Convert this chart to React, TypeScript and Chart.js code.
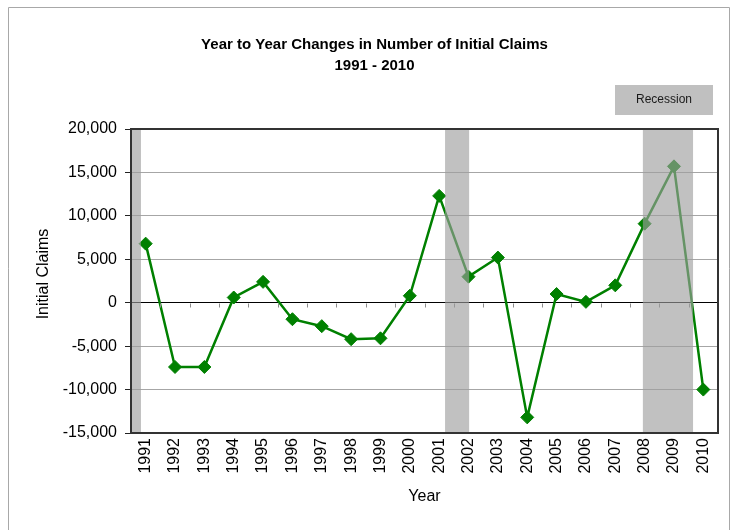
import React, { useEffect, useRef } from "react";
import { Chart, registerables } from "chart.js";

Chart.register(...registerables);

const years = [
  "1991", "1992", "1993", "1994", "1995", "1996", "1997", "1998", "1999", "2000",
  "2001", "2002", "2003", "2004", "2005", "2006", "2007", "2008", "2009", "2010",
];
const claimChanges = [
  6800, -7400, -7400, 600, 2400, -1900, -2700, -4200, -4100, 800,
  12300, 3000, 5200, -13200, 1000, 100, 2000, 9100, 15700, -10000,
];
// recession shading, in fractional years on the category axis
const recessionStart = [1990.5, 2001.2, 2007.94];
const recessionEnd = [1990.84, 2002.02, 2009.65];
const yTickValues = [-15000, -10000, -5000, 0, 5000, 10000, 15000, 20000];
const titleLines = ["Year to Year Changes in Number of Initial Claims", "1991 - 2010"];
const legendLabel = "Recession";
const xTitle = "Year";
const yTitle = "Initial Claims";

const FAMILY = "'Liberation Sans', Arial, Helvetica, sans-serif";

const decorPlugin = {
  id: "decor",
  beforeDraw(chart: any) {
    const { ctx, width, height } = chart;
    ctx.save();
    ctx.fillStyle = "#ffffff";
    ctx.fillRect(0, 0, width, height);
    ctx.strokeStyle = "#a8a8a8";
    ctx.lineWidth = 1;
    ctx.beginPath();
    ctx.moveTo(8.5, height);
    ctx.lineTo(8.5, 7.5);
    ctx.lineTo(729.5, 7.5);
    ctx.lineTo(729.5, height);
    ctx.stroke();
    ctx.restore();
  },
  afterDatasetsDraw(chart: any) {
    const { ctx, chartArea: a, scales } = chart;
    const x = scales.x;
    const y = scales.y;
    const base = Number(years[0]);
    ctx.save();
    // small tick marks along the zero line at category boundaries
    const y0 = Math.round(y.getPixelForValue(0)) + 0.5;
    ctx.strokeStyle = "#8c8c8c";
    ctx.lineWidth = 1;
    for (let k = 1; k < years.length; k++) {
      const px = Math.round(x.getPixelForValue(k - 0.5)) + 0.5;
      ctx.beginPath();
      ctx.moveTo(px, y0);
      ctx.lineTo(px, y0 + 4);
      ctx.stroke();
    }
    // recession bands
    ctx.fillStyle = "rgba(158,158,158,0.64)";
    for (let i = 0; i < recessionStart.length; i++) {
      let x0 = x.getPixelForValue(recessionStart[i] - base);
      let x1 = x.getPixelForValue(recessionEnd[i] - base);
      x0 = Math.max(x0, a.left);
      x1 = Math.min(x1, a.right);
      ctx.fillRect(x0, a.top, x1 - x0, a.bottom - a.top);
    }
    // plot frame
    ctx.strokeStyle = "#333333";
    ctx.lineWidth = 2;
    ctx.strokeRect(a.left, a.top, a.right - a.left, a.bottom - a.top);
    // title
    ctx.fillStyle = "#000000";
    ctx.textAlign = "center";
    ctx.textBaseline = "middle";
    ctx.font = `bold 15px ${FAMILY}`;
    ctx.fillText(titleLines[0], 374.5, 45);
    ctx.fillText(titleLines[1], 374.5, 66);
    // y axis title
    ctx.save();
    ctx.translate(44, 274);
    ctx.rotate(-Math.PI / 2);
    ctx.font = `16px ${FAMILY}`;
    ctx.fillText(yTitle, 0, 0);
    ctx.restore();
    // legend
    ctx.fillStyle = "#c0c0c0";
    ctx.fillRect(615, 85, 98, 30);
    ctx.fillStyle = "#1a1a1a";
    ctx.font = `12px ${FAMILY}`;
    ctx.fillText(legendLabel, 664, 100);
    ctx.restore();
  },
};

export default function App() {
  const canvasRef = useRef<HTMLCanvasElement | null>(null);

  useEffect(() => {
    if (!canvasRef.current) return;
    const chart = new Chart(canvasRef.current, {
      type: "line",
      data: {
        labels: years,
        datasets: [
          {
            data: claimChanges,
            borderColor: "#008000",
            backgroundColor: "#008000",
            borderWidth: 2.5,
            pointStyle: "rectRot",
            pointRadius: 6.5,
            pointBackgroundColor: "#008000",
            pointBorderColor: "#008000",
            pointBorderWidth: 1,
            tension: 0,
            fill: false,
          },
        ],
      },
      options: {
        responsive: false,
        animation: false,
        layout: { padding: { top: 129, right: 16, left: 0, bottom: 0 } },
        plugins: {
          legend: { display: false },
          tooltip: { enabled: false },
          title: { display: false },
        },
        scales: {
          x: {
            type: "category",
            offset: true,
            grid: { display: false, drawTicks: false },
            border: { display: true, color: "#333333", width: 2 },
            ticks: {
              minRotation: 90,
              maxRotation: 90,
              autoSkip: false,
              padding: 5,
              color: "#000000",
              font: { family: FAMILY, size: 16 },
            },
            title: {
              display: true,
              text: xTitle,
              color: "#000000",
              font: { family: FAMILY, size: 16 },
              padding: { top: 0, bottom: 24 },
            },
            afterFit: (s: any) => {
              s.height = 97;
            },
          },
          y: {
            type: "linear",
            min: -15000,
            max: 20000,
            afterBuildTicks: (s: any) => {
              s.ticks = yTickValues.map((v) => ({ value: v }));
            },
            grid: {
              color: (c: any) => (c.tick && c.tick.value === 0 ? "#000000" : "#a6a6a6"),
              lineWidth: 1,
              drawTicks: true,
              tickLength: 6,
              tickColor: "#222222",
            },
            border: { display: true, color: "#222222", width: 2 },
            ticks: {
              padding: 8,
              color: "#000000",
              font: { family: FAMILY, size: 16 },
              callback: (v: any) => Number(v).toLocaleString("en-US"),
            },
            title: { display: false, text: yTitle },
            afterFit: (s: any) => {
              s.width = 131;
            },
          },
        },
      },
      plugins: [decorPlugin],
    });
    return () => chart.destroy();
  }, []);

  return (
    <div style={{ position: "fixed", left: 0, top: 0, width: 734, height: 530, background: "#fff" }}>
      <canvas ref={canvasRef} width={734} height={530} style={{ display: "block" }} />
    </div>
  );
}
